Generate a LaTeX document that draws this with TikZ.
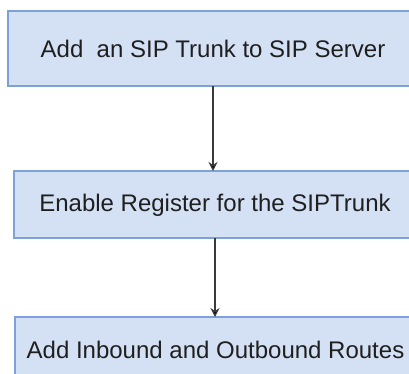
\documentclass[tikz,border=0pt]{standalone}
\usepackage{fontspec}
\setmainfont{Liberation Sans}
\usetikzlibrary{arrows.meta}
\definecolor{boxfill}{HTML}{D4E1F5}
\definecolor{boxline}{HTML}{7EA2D8}
\definecolor{wire}{HTML}{3A3A3A}
\begin{document}
\begin{tikzpicture}[x=1pt,y=-1pt,
  stepbox/.style={draw=boxline,fill=boxfill,line width=1.2pt,inner sep=0pt},
  steptext/.style={font=\fontsize{24}{28}\selectfont,text=black!88},
  flow/.style={draw=wire,line width=1.2pt,-{Stealth[length=9pt,width=9pt,fill=black]}}]
\useasboundingbox (0,0) rectangle (409,374);
% boxes
\path[stepbox] (8,11) rectangle (418,86);
\path[stepbox] (14,171) rectangle (416,238);
\path[stepbox] (15,317) rectangle (416,390);
% labels
\node[steptext] (s1) at (213,48.5) {Add\ \ an SIP Trunk to SIP Server};
\node[steptext] (s2) at (215,205) {Enable Register for the SIPTrunk};
\node[steptext] (s3) at (215.5,350) {Add Inbound and Outbound Routes};
% anchors on the box edges
\coordinate (a1) at (213,86);
\coordinate (b1) at (213,171);
\coordinate (a2) at (215,238);
\coordinate (b2) at (215,317);
\draw[flow] (a1) -- (b1);
\draw[flow] (a2) -- (b2);
\end{tikzpicture}
\end{document}
